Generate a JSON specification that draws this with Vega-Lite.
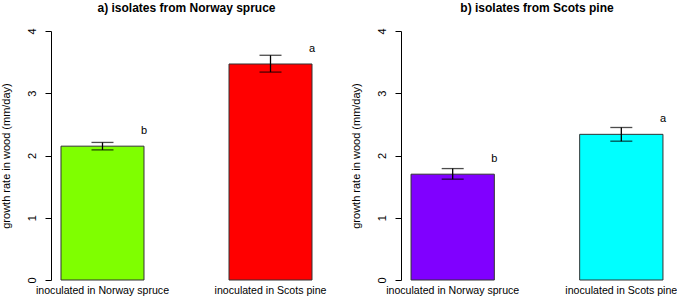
{
  "$schema": "https://vega.github.io/schema/vega-lite/v6.json",
  "padding": {"left": 0, "top": 1, "right": 0, "bottom": 0},
  "bounds": "flush",
  "spacing": 79,
  "config": {
    "view": {"stroke": null},
    "font": "Liberation Sans",
    "axis": {"grid": false, "domainColor": "#000", "tickColor": "#000", "labelColor": "#000", "titleColor": "#000", "labelFont": "Liberation Sans", "titleFont": "Liberation Sans", "labelFontSize": 11, "titleFontSize": 11, "titleFontWeight": "normal"},
    "title": {"font": "Liberation Sans", "fontSize": 12, "fontWeight": "bold", "color": "#000", "anchor": "middle", "offset": 13}
  },
  "datasets": {
    "growth": [
      {"panel": "a", "host": "inoculated in Norway spruce", "key": "a1", "mean": 2.15, "lo": 2.09, "hi": 2.21, "letter": "b"},
      {"panel": "a", "host": "inoculated in Scots pine", "key": "a2", "mean": 3.47, "lo": 3.34, "hi": 3.61, "letter": "a"},
      {"panel": "b", "host": "inoculated in Norway spruce", "key": "b1", "mean": 1.70, "lo": 1.62, "hi": 1.79, "letter": "b"},
      {"panel": "b", "host": "inoculated in Scots pine", "key": "b2", "mean": 2.34, "lo": 2.23, "hi": 2.45, "letter": "a"}
    ]
  },
  "hconcat": [
    {
      "width": 271, "height": 249,
      "title": {"text": "a) isolates from Norway spruce"},
      "data": {"name": "growth"},
      "transform": [{"filter": "datum.panel == 'a'"}],
      "encoding": {
        "x": {"field": "host", "type": "nominal", "sort": null, "title": null,
              "scale": {"type": "band", "paddingInner": 0.506, "paddingOuter": 0.0595},
              "axis": {"domain": false, "ticks": false, "labelAngle": 0, "labelPadding": 5, "labelFontSize": 10.6}}
      },
      "layer": [
        {"mark": {"type": "bar", "stroke": "#333", "strokeWidth": 1},
         "encoding": {
           "y": {"field": "mean", "type": "quantitative", "scale": {"domain": [0, 4], "nice": false},
                 "axis": {"values": [0, 1, 2, 3, 4], "format": "d", "tickSize": 6, "labelAngle": -90, "labelPadding": 8, "titlePadding": 15, "title": "growth rate in wood (mm/day)"}},
           "color": {"field": "key", "type": "nominal", "scale": {"domain": ["a1", "a2", "b1", "b2"], "range": ["#7FFF00", "#FF0000", "#8000FF", "#00FFFF"]}, "legend": null}
         }},
        {"mark": {"type": "rule", "color": "#000", "strokeWidth": 1.3},
         "encoding": {"y": {"field": "lo", "type": "quantitative"}, "y2": {"field": "hi"}}},
        {"mark": {"type": "tick", "color": "#000", "size": 22, "thickness": 1.3},
         "encoding": {"y": {"field": "lo", "type": "quantitative"}}},
        {"mark": {"type": "tick", "color": "#000", "size": 22, "thickness": 1.3},
         "encoding": {"y": {"field": "hi", "type": "quantitative"}}},
        {"mark": {"type": "text", "fontSize": 11, "dy": -15, "align": "center", "baseline": "middle", "color": "#000"},
         "encoding": {"x": {"field": "host", "type": "nominal", "sort": null, "bandPosition": 1}, "y": {"field": "mean", "type": "quantitative"}, "text": {"field": "letter"}}}
      ]
    },
    {
      "width": 272, "height": 249,
      "title": {"text": "b) isolates from Scots pine"},
      "data": {"name": "growth"},
      "transform": [{"filter": "datum.panel == 'b'"}],
      "encoding": {
        "x": {"field": "host", "type": "nominal", "sort": null, "title": null,
              "scale": {"type": "band", "paddingInner": 0.506, "paddingOuter": 0.0595},
              "axis": {"domain": false, "ticks": false, "labelAngle": 0, "labelPadding": 5, "labelFontSize": 10.6}}
      },
      "layer": [
        {"mark": {"type": "bar", "stroke": "#333", "strokeWidth": 1},
         "encoding": {
           "y": {"field": "mean", "type": "quantitative", "scale": {"domain": [0, 4], "nice": false},
                 "axis": {"values": [0, 1, 2, 3, 4], "format": "d", "tickSize": 6, "labelAngle": -90, "labelPadding": 8, "titlePadding": 15, "title": "growth rate in wood (mm/day)"}},
           "color": {"field": "key", "type": "nominal", "scale": {"domain": ["a1", "a2", "b1", "b2"], "range": ["#7FFF00", "#FF0000", "#8000FF", "#00FFFF"]}, "legend": null}
         }},
        {"mark": {"type": "rule", "color": "#000", "strokeWidth": 1.3},
         "encoding": {"y": {"field": "lo", "type": "quantitative"}, "y2": {"field": "hi"}}},
        {"mark": {"type": "tick", "color": "#000", "size": 22, "thickness": 1.3},
         "encoding": {"y": {"field": "lo", "type": "quantitative"}}},
        {"mark": {"type": "tick", "color": "#000", "size": 22, "thickness": 1.3},
         "encoding": {"y": {"field": "hi", "type": "quantitative"}}},
        {"mark": {"type": "text", "fontSize": 11, "dy": -15, "align": "center", "baseline": "middle", "color": "#000"},
         "encoding": {"x": {"field": "host", "type": "nominal", "sort": null, "bandPosition": 1}, "y": {"field": "mean", "type": "quantitative"}, "text": {"field": "letter"}}}
      ]
    }
  ],
  "resolve": {"scale": {"color": "shared"}}
}
